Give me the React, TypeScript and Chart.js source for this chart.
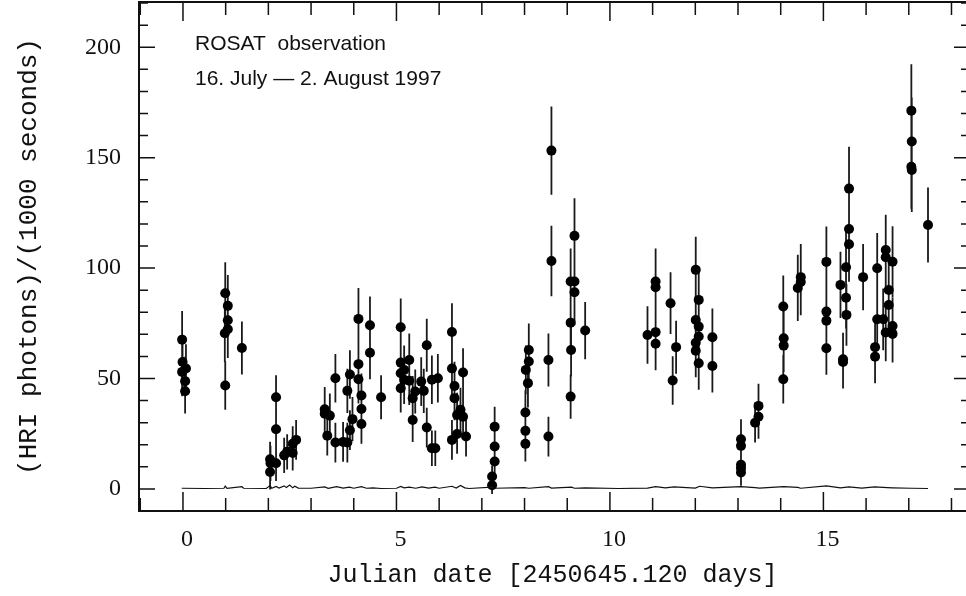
import React, { useEffect, useRef } from "react";
import { Chart, registerables } from "chart.js";

Chart.register(...registerables);

// ---------- data ----------
// observation times (days since JD 2450645.120)
const obsDay = [
  -0.02, -0.01, 0.07, -0.02, 0.05, 0.05,
  0.99, 1.05, 1.05, 1.05, 0.98, 0.99, 1.38,
  2.04, 2.05, 2.04, 2.18, 2.18, 2.18, 2.37, 2.44, 2.57, 2.57, 2.65,
  3.32, 3.32, 3.44, 3.38, 3.57, 3.57, 3.75, 3.85, 3.85, 3.91, 3.91, 3.97, 4.11, 4.11, 4.11, 4.18, 4.18, 4.18, 4.38, 4.38, 4.64,
  5.10, 5.10, 5.10, 5.10, 5.18, 5.18, 5.30, 5.30, 5.38, 5.38, 5.44, 5.58, 5.64, 5.71, 5.71, 5.83, 5.83, 5.91, 5.97,
  6.30, 6.30, 6.36, 6.36, 6.30, 6.42, 6.42, 6.50, 6.56, 6.56, 6.63,
  7.24, 7.24, 7.30, 7.30, 7.30,
  8.02, 8.02, 8.02, 8.03, 8.10, 8.10, 8.08,
  8.56, 8.56, 8.63, 8.63,
  9.08, 9.17, 9.17, 9.17, 9.08, 9.09, 9.08, 9.42,
  10.88, 11.07, 11.07, 11.07, 11.07, 11.42, 11.55, 11.47, 12.01, 12.08, 12.01, 12.08, 12.08, 12.01, 12.01, 12.08, 12.40, 12.40,
  13.07, 13.07, 13.07, 13.07, 13.07, 13.40, 13.48, 13.48,
  14.06, 14.07, 14.07, 14.06,
  14.40, 14.47, 14.47,
  15.07, 15.07, 15.07, 15.07,
  15.40, 15.46, 15.46, 15.53, 15.53, 15.54, 15.60, 15.60, 15.60,
  15.93,
  16.26, 16.21, 16.21, 16.26, 16.40, 16.46, 16.46, 16.53, 16.53, 16.46, 16.62, 16.62, 16.62,
  17.06, 17.07, 17.06, 17.07, 17.45,
];

// HRI count rate (photons / 1000 s)
const rate = [
  67.6, 57.5, 54.5, 53.0, 48.8, 44.2,
  88.6, 82.9, 76.4, 72.3, 70.5, 46.8, 63.8,
  13.4, 11.6, 7.7, 41.5, 27.0, 11.6, 15.2, 16.8, 16.3, 20.4, 22.2,
  36.1, 34.0, 33.2, 24.1, 50.1, 21.0, 21.3, 21.0, 44.4, 51.8, 26.6, 31.6, 77.0, 56.5, 49.7, 42.3, 36.2, 29.4, 74.1, 61.7, 41.5,
  73.2, 57.2, 52.4, 45.6, 53.9, 49.4, 58.4, 49.0, 41.1, 31.2, 44.1, 48.6, 44.4, 65.1, 27.8, 49.4, 18.4, 18.4, 50.1,
  71.1, 54.5, 46.6, 41.1, 22.2, 33.5, 24.9, 35.8, 52.7, 32.7, 23.7,
  5.6, 1.7, 12.4, 19.2, 28.2,
  20.4, 26.3, 34.6, 53.9, 57.7, 62.9, 47.9,
  23.7, 58.4, 103.2, 153.2,
  93.9, 93.9, 89.1, 114.6, 75.3, 62.9, 41.8, 71.7,
  69.7, 93.9, 91.3, 71.0, 65.7, 84.1, 64.2, 49.1, 99.2, 85.6, 76.5, 73.5, 69.0, 66.2, 62.6, 56.9, 68.7, 55.7,
  22.5, 19.5, 10.9, 9.4, 7.4, 30.0, 32.7, 37.6,
  82.6, 68.2, 64.9, 49.7,
  91.0, 95.9, 93.7,
  102.8, 80.3, 76.2, 63.7,
  92.4, 58.7, 57.5, 100.4, 86.6, 78.8, 136.0, 117.7, 110.8,
  95.9,
  99.9, 64.2, 59.9, 76.8, 76.8, 108.2, 104.9, 90.1, 83.3, 70.8, 102.9, 73.8, 70.2,
  171.3, 157.3, 145.9, 144.4, 119.5,
];

// 1-sigma errors
const rateErr = [
  13, 12, 11, 11, 11, 10,
  14, 14, 13, 13, 13, 11, 12,
  8, 8, 8, 10, 9, 8, 8, 8, 8, 8, 9,
  10, 10, 10, 9, 11, 9, 9, 9, 10, 11, 9, 10, 14, 12, 11, 10, 10, 9, 13, 12, 10,
  13, 12, 11, 11, 11, 11, 12, 11, 10, 10, 10, 11, 10, 12, 9, 11, 8, 8, 11,
  13, 12, 11, 10, 9, 10, 9, 10, 11, 10, 9,
  5, 4, 7, 8, 9,
  8, 9, 10, 11, 12, 12, 11,
  9, 12, 16, 20,
  15, 15, 15, 17, 14, 12, 10, 13,
  13, 15, 15, 13, 12, 14, 12, 11, 15, 14, 14, 13, 13, 12, 12, 12, 13, 12,
  9, 8, 7, 7, 6, 9, 10, 10,
  14, 13, 12, 11,
  15, 15, 15,
  16, 14, 14, 12,
  15, 12, 12, 16, 14, 14, 19, 17, 17,
  15,
  16, 12, 12, 14, 14, 16, 16, 15, 14, 13, 16, 13, 13,
  21, 20, 19, 19, 17,
];

// background count rate curve
const bgDay = [
  -0.03, 0.5, 0.96, 0.99, 1.03, 1.38, 1.42, 1.95, 2.04, 2.08, 2.18, 2.25, 2.37, 2.42, 2.5, 2.57, 2.62, 2.7,
  3.0, 3.32, 3.4, 3.6, 3.75, 3.9, 4.0, 4.18, 4.3, 4.45, 4.64, 5.0, 5.1, 5.18, 5.3, 5.45, 5.6, 5.75,
  5.9, 6.0, 6.3, 6.4, 6.5, 6.6, 6.7, 7.24, 7.3, 8.0, 8.1, 8.56, 8.63, 9.1, 9.17, 9.42, 10.2, 10.88,
  11.07, 11.3, 11.5, 12.0, 12.1, 12.4, 13.07, 13.4, 13.5, 14.07, 14.4, 14.47, 15.07, 15.4, 15.6,
  15.9, 16.2, 16.5, 16.62, 17.07, 17.45,
];
const bgRate = [
  0.3, 0.2, 0.3, 1.3, 0.3, 1.0, 0.3, 0.2, 1.5, 0.3, 1.1, 0.4, 1.4, 0.6, 1.8, 0.5, 1.2, 0.4,
  0.3, 0.9, 0.3, 1.0, 0.4, 0.8, 0.3, 1.0, 0.3, 0.5, 0.2, 0.3, 1.1, 0.5, 0.8, 0.3, 0.9, 0.4,
  0.8, 0.3, 1.2, 0.4, 1.6, 0.5, 0.2, 0.8, 0.3, 0.6, 0.3, 1.0, 0.4, 0.8, 0.3, 0.5, 0.2, 0.4,
  1.0, 0.5, 0.9, 0.4, 1.2, 0.5, 1.0, 0.6, 0.4, 1.0, 0.7, 0.3, 1.4, 0.5, 0.9,
  0.4, 0.9, 0.6, 0.5, 0.3, 0.2,
];

const xTickLabels = [0, 5, 10, 15];
const yTickLabels = [0, 50, 100, 150, 200];
const xMinorTicks = [-1, 0, 1, 2, 3, 4, 5, 6, 7, 8, 9, 10, 11, 12, 13, 14, 15, 16, 17, 18];
const yMinorTicks = [
  -10, 0, 10, 20, 30, 40, 50, 60, 70, 80, 90, 100, 110, 120, 130, 140, 150, 160, 170, 180, 190, 200, 210, 220,
];
const noteLines = ["ROSAT  observation", "16. July \u2014 2. August 1997"];
const xTitle = "Julian date [2450645.120 days]";
const yTitle = "(HRI photons)/(1000 seconds)";

// ---------- plugins ----------
const errorBarPlugin = {
  id: "errorBars",
  beforeDatasetsDraw(chart: any) {
    const { ctx, scales } = chart;
    const xs = scales.x;
    const ys = scales.y;
    ctx.save();
    ctx.strokeStyle = "#1a1a1a";
    ctx.lineWidth = 1.8;
    ctx.beginPath();
    for (let i = 0; i < obsDay.length; i++) {
      const px = xs.getPixelForValue(obsDay[i]);
      ctx.moveTo(px, ys.getPixelForValue(rate[i] - rateErr[i]));
      ctx.lineTo(px, ys.getPixelForValue(rate[i] + rateErr[i]));
    }
    ctx.stroke();
    ctx.restore();
  },
};

const framePlugin = {
  id: "pgFrame",
  afterDatasetsDraw(chart: any) {
    const { ctx, chartArea, scales } = chart;
    const xs = scales.x;
    const ys = scales.y;
    const L = chartArea.left;
    const T = chartArea.top;
    const B = chartArea.bottom;
    const R = chartArea.right + 4;
    ctx.save();
    ctx.strokeStyle = "#111";
    ctx.lineWidth = 2;
    ctx.beginPath();
    ctx.moveTo(R, T);
    ctx.lineTo(L, T);
    ctx.lineTo(L, B);
    ctx.lineTo(R, B);
    ctx.stroke();

    ctx.lineWidth = 1.5;
    ctx.beginPath();
    for (const v of xMinorTicks) {
      const px = xs.getPixelForValue(v);
      if (px <= L + 1) continue;
      const len = xTickLabels.includes(v) ? 19 : 13;
      ctx.moveTo(px, B);
      ctx.lineTo(px, B - len);
      ctx.moveTo(px, T);
      ctx.lineTo(px, T + len);
    }
    for (const v of yMinorTicks) {
      const py = ys.getPixelForValue(v);
      if (py >= B - 1 || py <= T + 1) continue;
      const len = yTickLabels.includes(v) ? 16 : 9;
      ctx.moveTo(L, py);
      ctx.lineTo(L + len, py);
      ctx.moveTo(R, py);
      ctx.lineTo(R - len, py);
    }
    ctx.stroke();

    ctx.fillStyle = "#111";
    ctx.font = "21px 'Liberation Sans'";
    ctx.textAlign = "left";
    ctx.textBaseline = "middle";
    ctx.fillText(noteLines[0], L + 56, T + 42);
    ctx.fillText(noteLines[1], L + 56, T + 77);
    ctx.restore();
  },
};

export default function App() {
  const ref = useRef<HTMLCanvasElement | null>(null);

  useEffect(() => {
    if (!ref.current) return;
    const points = obsDay.map((d, i) => ({ x: d, y: rate[i] }));
    const bg = bgDay.map((d, i) => ({ x: d, y: bgRate[i] }));
    const chart = new Chart(ref.current, {
      type: "scatter",
      data: {
        datasets: [
          {
            label: "background",
            data: bg,
            showLine: true,
            borderColor: "#111",
            borderWidth: 1.2,
            pointRadius: 0,
            tension: 0,
          } as any,
          {
            label: "HRI rate",
            data: points,
            pointRadius: 5,
            pointBackgroundColor: "#000",
            pointBorderWidth: 0,
            showLine: false,
          } as any,
        ],
      },
      options: {
        animation: false,
        responsive: false,
        devicePixelRatio: 1,
        layout: { autoPadding: false, padding: { top: 2, right: 0, left: 0, bottom: 0 } },
        plugins: {
          legend: { display: false },
          tooltip: { enabled: false },
        },
        scales: {
          x: {
            type: "linear",
            min: -1.03,
            max: 18.34,
            grid: { display: false, drawTicks: false },
            border: { display: false },
            afterBuildTicks: (s: any) => {
              s.ticks = xTickLabels.map((v) => ({ value: v }));
            },
            afterFit: (s: any) => {
              s.height = 85;
              s.paddingLeft = 0;
              s.paddingRight = 0;
            },
            ticks: {
              color: "#111",
              font: { family: "'Liberation Serif'", size: 24 },
              padding: 14,
              maxRotation: 0,
              labelOffset: 4,
              callback: (v: any) => String(v),
            },
            title: {
              display: true,
              text: xTitle,
              color: "#111",
              font: { family: "'Liberation Mono'", size: 25 },
              padding: { top: 0, bottom: 6 },
            },
          },
          y: {
            type: "linear",
            min: -10,
            max: 220.5,
            grid: { display: false, drawTicks: false },
            border: { display: false },
            afterBuildTicks: (s: any) => {
              s.ticks = yTickLabels.map((v) => ({ value: v }));
            },
            afterFit: (s: any) => {
              s.width = 139;
              s.paddingTop = 0;
              s.paddingBottom = 0;
            },
            ticks: {
              color: "#111",
              font: { family: "'Liberation Serif'", size: 24 },
              padding: 18,
              callback: (v: any) => String(v),
            },
            title: {
              display: true,
              text: yTitle,
              color: "#111",
              font: { family: "'Liberation Mono'", size: 26 },
              padding: { top: 14, bottom: 0 },
            },
          },
        },
      },
      plugins: [errorBarPlugin, framePlugin],
    });
    return () => chart.destroy();
  }, []);

  return (
    <div style={{ position: "absolute", left: 0, top: 0, width: 966, height: 596, background: "#fff" }}>
      <canvas ref={ref} width={966} height={596} style={{ display: "block", width: 966, height: 596 }} />
    </div>
  );
}
